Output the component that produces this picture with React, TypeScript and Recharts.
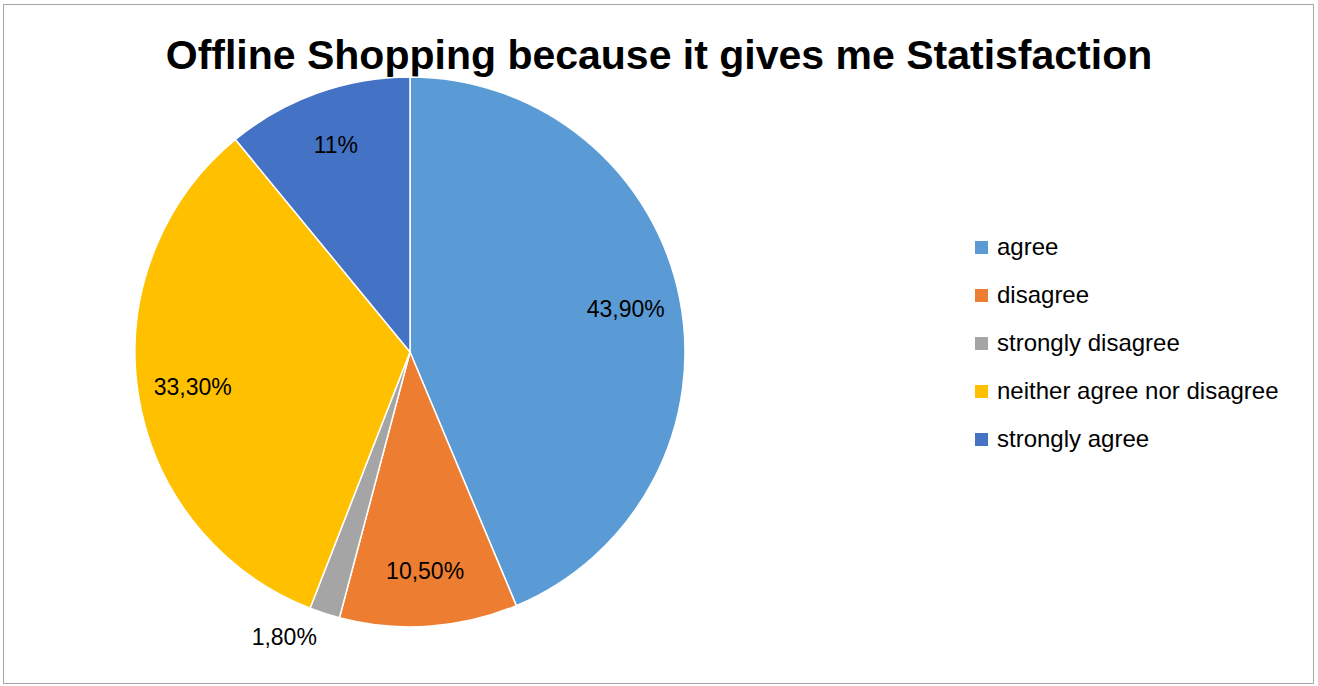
import { PieChart, Pie, Cell, Legend } from 'recharts';

const categories = ['agree', 'disagree', 'strongly disagree', 'neither agree nor disagree', 'strongly agree'];
const values = [43.9, 10.5, 1.8, 33.3, 11];
const labels = ['43,90%', '10,50%', '1,80%', '33,30%', '11%'];
const colors = ['#5b9bd5', '#ed7d31', '#a5a5a5', '#ffc000', '#4472c4'];

const data = categories.map((name, i) => ({ name, value: values[i], label: labels[i] }));

const FONT = '"Liberation Sans", Arial, sans-serif';
const RAD = Math.PI / 180;

const renderLabel = (props: any) => {
  const { cx, cy, midAngle, outerRadius, index } = props;
  const small = values[index] < 5;
  const r = small ? outerRadius + 25 : outerRadius * 0.8;
  const x = cx + r * Math.cos(-midAngle * RAD);
  const y = cy + r * Math.sin(-midAngle * RAD);
  return (
    <text x={x} y={y} textAnchor={small ? 'end' : 'middle'} dominantBaseline="central"
      fill="#000" fontSize={23} fontFamily={FONT}>
      {labels[index]}
    </text>
  );
};

const renderLegend = () => (
  <div style={{ fontFamily: FONT, fontSize: 24, color: '#000' }}>
    {categories.map((c, i) => (
      <div key={c} style={{ display: 'flex', alignItems: 'center', height: 48 }}>
        <span style={{ width: 13, height: 13, background: colors[i], marginRight: 9, display: 'inline-block' }} />
        <span>{c}</span>
      </div>
    ))}
  </div>
);

export default function App() {
  return (
    <div style={{ position: 'absolute', left: 0, top: 0, width: 1318, height: 686, background: '#fff' }}>
      <div style={{ position: 'absolute', left: 3, top: 4, width: 1309, height: 678, border: '1px solid #a6a6a6' }} />
      <div style={{
        position: 'absolute', left: 0, top: 30, width: 1318, textAlign: 'center',
        fontFamily: FONT, fontWeight: 'bold', fontSize: 41, color: '#000', lineHeight: '50px'
      }}>
        Offline Shopping because it gives me Statisfaction
      </div>
      <div style={{ position: 'absolute', left: 0, top: 0 }}>
        <PieChart width={1318} height={686} margin={{ top: 0, right: 0, bottom: 0, left: 0 }}>
          <Pie data={data} dataKey="value" nameKey="name" cx={410} cy={352} outerRadius={275}
            startAngle={90} endAngle={-270} stroke="#fff" strokeWidth={1.5}
            label={renderLabel} labelLine={false} isAnimationActive={false}>
            {data.map((d, i) => <Cell key={d.name} fill={colors[i]} />)}
          </Pie>
          <Legend content={renderLegend} layout="vertical"
            wrapperStyle={{ position: 'absolute', left: 975, top: 223, width: 340 }} />
        </PieChart>
      </div>
    </div>
  );
}
